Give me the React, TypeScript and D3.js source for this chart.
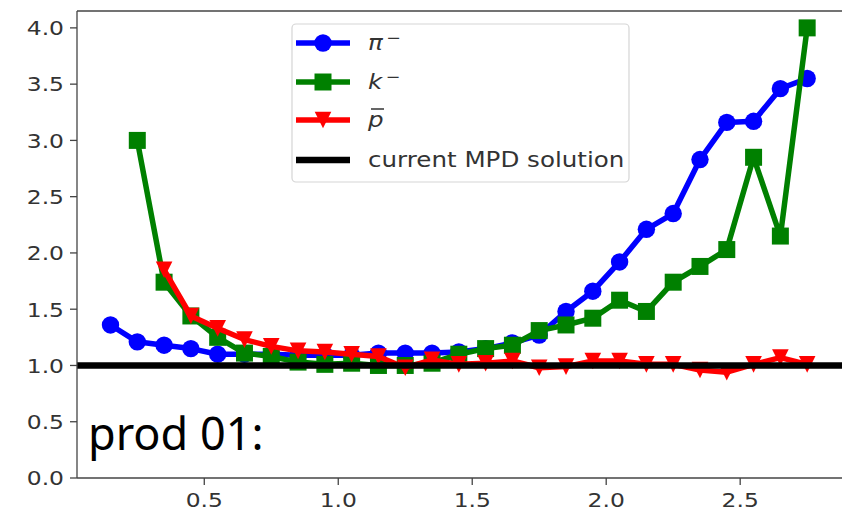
import React, { useEffect, useRef } from "react";
import * as d3 from "d3";

// momentum bins (GeV/c)
const xBins = [0.15, 0.25, 0.35, 0.45, 0.55, 0.65, 0.75, 0.85, 0.95, 1.05, 1.15, 1.25, 1.35, 1.45,
  1.55, 1.65, 1.75, 1.85, 1.95, 2.05, 2.15, 2.25, 2.35, 2.45, 2.55, 2.65, 2.75];

const piMinus = [1.36, 1.21, 1.18, 1.15, 1.10, 1.10, 1.10, 1.09, 1.09, 1.09, 1.11, 1.11, 1.11, 1.12,
  1.15, 1.20, 1.27, 1.48, 1.66, 1.92, 2.21, 2.35, 2.83, 3.16, 3.17, 3.46, 3.55];

const kMinus = [null, 3.0, 1.74, 1.44, 1.25, 1.11, 1.08, 1.03, 1.01, 1.02, 1.0, 1.0, 1.02, 1.10,
  1.15, 1.18, 1.31, 1.36, 1.42, 1.58, 1.48, 1.74, 1.88, 2.03, 2.85, 2.15, 4.0];

const pBar = [null, null, 1.85, 1.44, 1.33, 1.23, 1.17, 1.13, 1.12, 1.10, 1.08, 0.98, 1.05, 1.01,
  1.02, 1.04, 0.98, 0.99, 1.04, 1.04, 1.01, 1.01, 0.96, 0.94, 1.01, 1.07, 1.01];

const mpdLevel = 1.0;

const xTicks = [0.5, 1.0, 1.5, 2.0, 2.5];
const yTicks = [0.0, 0.5, 1.0, 1.5, 2.0, 2.5, 3.0, 3.5, 4.0];

const W = 842;
const H = 516;
const FONT = "'DejaVu Sans', sans-serif";
const STRETCH = 1.17; // the source picture is a bit wider than tall

const markerPath = (kind, r) => {
  if (kind === "circle") return d3.symbol(d3.symbolCircle, Math.PI * r * r)();
  if (kind === "square") return `M${-r},${-r}H${r}V${r}H${-r}Z`;
  return `M${-r},${-r}L${r},${-r}L0,${r}Z`; // triangle down
};

const App = () => {
  const ref = useRef(null);

  useEffect(() => {
    const svg = d3.select(ref.current);
    svg.selectAll("*").remove();

    const x = d3.scaleLinear().domain([0.025, 2.88]).range([77, 842]);
    const y = d3.scaleLinear().domain([0, 4.15]).range([478, 11]);

    const series = [
      { name: "pi", values: piMinus, color: "#0000ff", marker: "circle", r: 8.7 },
      { name: "k", values: kMinus, color: "#008000", marker: "square", r: 8.5 },
      { name: "p", values: pBar, color: "#ff0000", marker: "triangle", r: 8.3 },
    ];

    const label = (g, px, py, anchor, size, txt) =>
      g.append("text")
        .attr("transform", `translate(${px},${py}) scale(${STRETCH},1)`)
        .attr("text-anchor", anchor)
        .style("font-family", FONT)
        .style("font-size", size)
        .style("fill", "#333")
        .text(txt);

    const plot = svg.append("g");

    series.forEach((s) => {
      const pts = xBins.map((xv, i) => [xv, s.values[i]]).filter((d) => d[1] != null);
      const line = d3.line().x((d) => x(d[0])).y((d) => y(d[1]));
      plot.append("path")
        .attr("d", line(pts))
        .attr("fill", "none")
        .attr("stroke", s.color)
        .attr("stroke-width", 5.5)
        .attr("stroke-linejoin", "round");
      plot.append("g")
        .selectAll("path")
        .data(pts)
        .enter()
        .append("path")
        .attr("d", markerPath(s.marker, s.r))
        .attr("transform", (d) => `translate(${x(d[0])},${y(d[1])})`)
        .attr("fill", s.color);
    });

    // current MPD solution
    plot.append("line")
      .attr("x1", 77).attr("x2", 842)
      .attr("y1", y(mpdLevel)).attr("y2", y(mpdLevel))
      .attr("stroke", "#000")
      .attr("stroke-width", 6.5);

    // spines
    const spine = "#444";
    svg.append("line").attr("x1", 77).attr("x2", 77).attr("y1", 11).attr("y2", 478).attr("stroke", spine).attr("stroke-width", 1.3);
    svg.append("line").attr("x1", 77).attr("x2", 842).attr("y1", 478).attr("y2", 478).attr("stroke", spine).attr("stroke-width", 1.3);
    svg.append("line").attr("x1", 77).attr("x2", 842).attr("y1", 11).attr("y2", 11).attr("stroke", spine).attr("stroke-width", 1.3);

    // y ticks
    const yt = svg.append("g");
    yTicks.forEach((t) => {
      yt.append("line").attr("x1", 70).attr("x2", 77).attr("y1", y(t)).attr("y2", y(t)).attr("stroke", spine).attr("stroke-width", 1.3);
      label(yt, 64, y(t) + 7.3, "end", "20px", t.toFixed(1));
    });

    // x ticks
    const xt = svg.append("g");
    xTicks.forEach((t) => {
      xt.append("line").attr("x1", x(t)).attr("x2", x(t)).attr("y1", 478).attr("y2", 485).attr("stroke", spine).attr("stroke-width", 1.3);
      label(xt, x(t), 507, "middle", "20px", t.toFixed(1));
    });

    // legend
    const lg = svg.append("g");
    lg.append("rect")
      .attr("x", 292).attr("y", 24).attr("width", 337).attr("height", 158)
      .attr("rx", 4)
      .attr("fill", "white").attr("fill-opacity", 0.85)
      .attr("stroke", "#d5d5d5").attr("stroke-width", 1.2);

    const rows = [43, 82, 120, 160];
    series.forEach((s, i) => {
      const ry = rows[i];
      lg.append("line").attr("x1", 296).attr("x2", 350).attr("y1", ry).attr("y2", ry)
        .attr("stroke", s.color).attr("stroke-width", 5.5);
      lg.append("path").attr("d", markerPath(s.marker, s.r))
        .attr("transform", `translate(323,${ry})`).attr("fill", s.color);
    });
    lg.append("line").attr("x1", 296).attr("x2", 350).attr("y1", rows[3]).attr("y2", rows[3])
      .attr("stroke", "#000").attr("stroke-width", 6.5);

    const mathText = (ry, base, sup) => {
      const t = lg.append("text")
        .attr("transform", `translate(368,${ry + 7}) scale(${STRETCH},1)`)
        .style("font-family", FONT).style("font-size", "21px").style("fill", "#333");
      t.append("tspan").style("font-style", "italic").text(base);
      if (sup) t.append("tspan").attr("dx", 3).attr("dy", "-0.45em").style("font-size", "15px").text(sup);
      return t;
    };
    mathText(rows[0], "π", "−");
    mathText(rows[1], "k", "−");
    mathText(rows[2], "p", null);
    lg.append("line").attr("x1", 371).attr("x2", 384).attr("y1", rows[2] - 11).attr("y2", rows[2] - 11)
      .attr("stroke", "#333").attr("stroke-width", 1.5);

    label(lg, 368, rows[3] + 7, "start", "21px", "current MPD solution");

    // annotation
    svg.append("text")
      .attr("x", 88).attr("y", 450)
      .style("font-family", "'Noto Sans', sans-serif")
      .style("font-size", "45px")
      .style("fill", "#000")
      .text("prod 01:");
  }, []);

  return (
    <svg
      ref={ref}
      width={W}
      height={H}
      style={{ position: "fixed", left: 0, top: 0, background: "white", display: "block" }}
    />
  );
};

export default App;
